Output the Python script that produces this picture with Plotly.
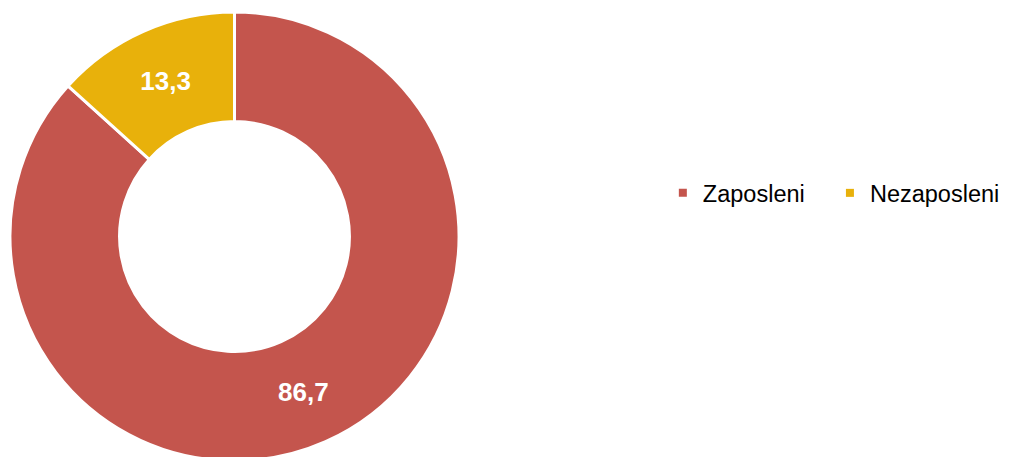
import plotly.graph_objects as go

categories = ["Zaposleni", "Nezaposleni"]
values = [86.7, 13.3]
colors = ["#C4554D", "#E8B10B"]

W, H = 1009, 457
fig = go.Figure()
fig.add_trace(go.Pie(
    labels=categories,
    values=values,
    sort=False,
    direction="clockwise",
    rotation=0,
    hole=0.512,
    marker=dict(colors=colors, line=dict(color="white", width=3)),
    texttemplate="%{value:.1f}",
    textposition="inside",
    insidetextorientation="horizontal",
    textfont=dict(family="Liberation Sans, Arial", size=26, color="white", weight="bold"),
    domain=dict(x=[2 / W, 451 / W], y=[0, 1]),
    hoverinfo="label+value",
    showlegend=False,
))

# legend proxies (one legend per category so spacing matches the reference)
legend_ids = ["legend", "legend2"]
for name, col, lid in zip(categories, colors, legend_ids):
    fig.add_trace(go.Scatter(
        x=[None], y=[None], mode="markers", name=name,
        marker=dict(symbol="square", size=8, color=col),
        legend=lid, showlegend=True, hoverinfo="skip",
    ))

legend_font = dict(family="Liberation Sans, Arial", size=23.5, color="#000000")
fig.update_layout(
    width=W, height=H,
    separators=",.",
    margin=dict(l=0, r=0, t=0, b=0),
    paper_bgcolor="white",
    plot_bgcolor="white",
    xaxis=dict(visible=False),
    yaxis=dict(visible=False),
    legend=dict(x=0.649, xanchor="left", y=0.595, yanchor="middle",
                font=legend_font, itemwidth=30, bgcolor="rgba(0,0,0,0)"),
    legend2=dict(x=0.8146, xanchor="left", y=0.595, yanchor="middle",
                 font=legend_font, itemwidth=30, bgcolor="rgba(0,0,0,0)"),
)

fig.write_html("out.html")
